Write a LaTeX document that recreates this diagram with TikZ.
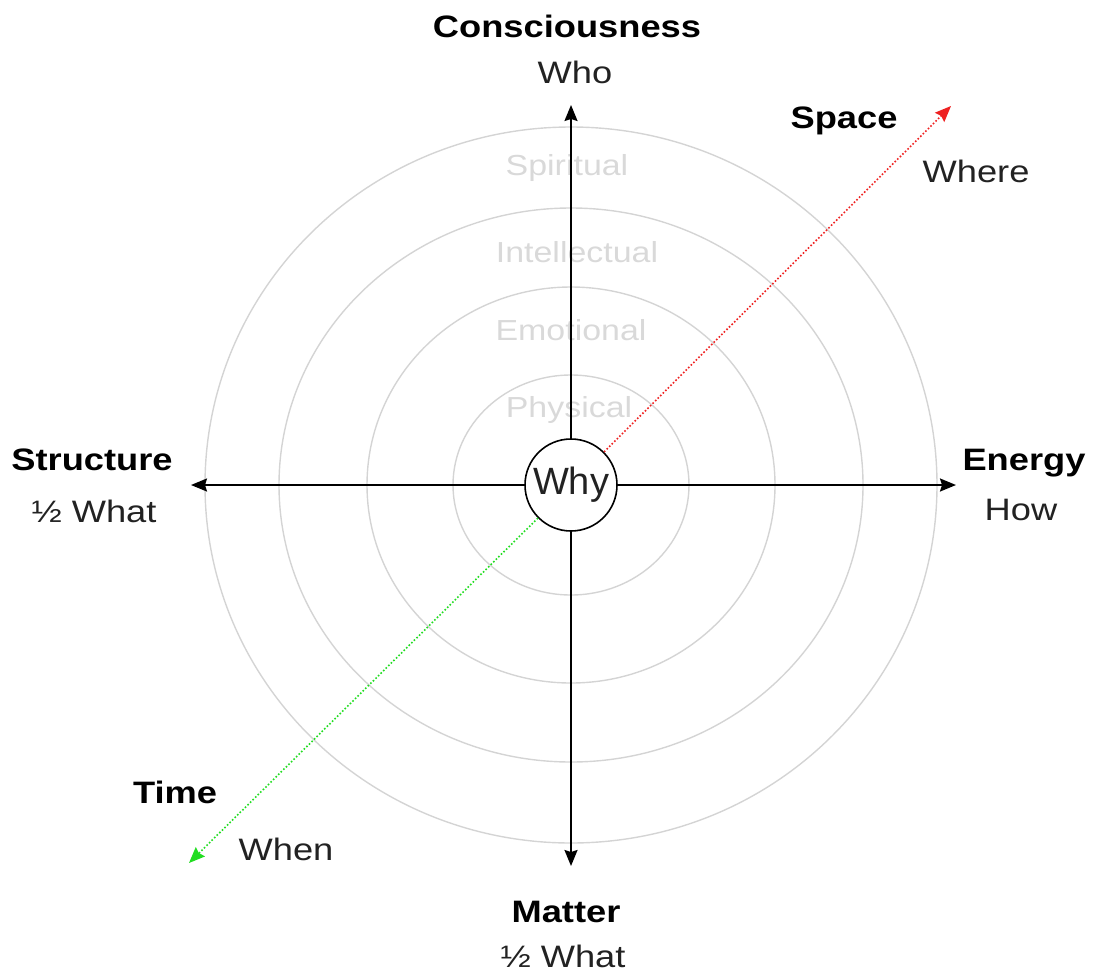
\documentclass[tikz,border=0pt]{standalone}
\usepackage{fontspec}
\setmainfont{Liberation Sans}[FakeStretch=1.17]
\newfontfamily\whyfont{Liberation Sans}
\usetikzlibrary{arrows.meta}
\definecolor{ringgray}{HTML}{D4D4D4}
\definecolor{ringtext}{HTML}{D9D9D9}
\definecolor{labeltext}{HTML}{222222}
\definecolor{spacered}{HTML}{EE2222}
\definecolor{timegreen}{HTML}{22DD22}
\tikzset{
  ring/.style={draw=ringgray, line width=1.4pt},
  axis/.style={draw=black, line width=1.9pt, -{Stealth[length=16pt,width=13pt,inset=2pt]}},
  spacearr/.style={draw=spacered, line width=1.6pt, dotted, -{Stealth[length=16pt,width=13pt,inset=2pt]}},
  timearr/.style={draw=timegreen, line width=1.6pt, dotted, -{Stealth[length=16pt,width=13pt,inset=2pt]}},
  head/.style={anchor=base, inner sep=0pt, font=\fontsize{31}{37}\selectfont\bfseries, text=black},
  sub/.style={anchor=base, inner sep=0pt, font=\fontsize{31}{37}\selectfont, text=labeltext},
  ringlabel/.style={anchor=base, inner sep=0pt, font=\fontsize{29}{35}\selectfont, text=ringtext},
}
\begin{document}
\begin{tikzpicture}[x=1pt,y=-1pt]
\useasboundingbox (0,0) rectangle (1094,972);
% rings
\draw[ring] (571,485) ellipse [x radius=366, y radius=358];
\draw[ring] (571,485) ellipse [x radius=292, y radius=277];
\draw[ring] (571,485) ellipse [x radius=204, y radius=198];
\draw[ring] (571,485) ellipse [x radius=118, y radius=110];
% ring labels
\node[ringlabel] (spiritual) at (567,175) {Spiritual};
\node[ringlabel] (intellectual) at (577,262) {Intellectual};
\node[ringlabel] (emotional) at (571,340) {Emotional};
\node[ringlabel] (physical) at (569,417) {Physical};
% center
\node[draw=black, line width=1.6pt, circle, minimum size=92pt, inner sep=0pt, fill=white,
      font=\whyfont\fontsize{38}{40}\selectfont, text=labeltext] (why) at (571,485) {Why};
% endpoints
\coordinate (topend) at (571,105);
\coordinate (botend) at (571,866);
\coordinate (leftend) at (191,485);
\coordinate (rightend) at (956,485);
\coordinate (spaceend) at (951,106);
\coordinate (timeend) at (189,863);
% axes
\draw[axis] (why.north) -- (topend);
\draw[axis] (why.south) -- (botend);
\draw[axis] (why.west) -- (leftend);
\draw[axis] (why.east) -- (rightend);
\draw[spacearr] (why.45) -- (spaceend);
\draw[timearr] (why.225) -- (timeend);
% labels
\node[head] (consc) at (567,37) {Consciousness};
\node[sub] (who) at (575,83) {Who};
\node[head] (space) at (844,128) {Space};
\node[sub] (where) at (976,182) {Where};
\node[head] (structure) at (92,470) {Structure};
\node[sub] (whatl) at (94,522) {½ What};
\node[head] (energy) at (1024,470) {Energy};
\node[sub] (how) at (1021,520) {How};
\node[head] (time) at (175,803) {Time};
\node[sub] (when) at (286,860) {When};
\node[head] (matter) at (566,922) {Matter};
\node[sub] (whatb) at (563,967) {½ What};
\end{tikzpicture}
\end{document}
